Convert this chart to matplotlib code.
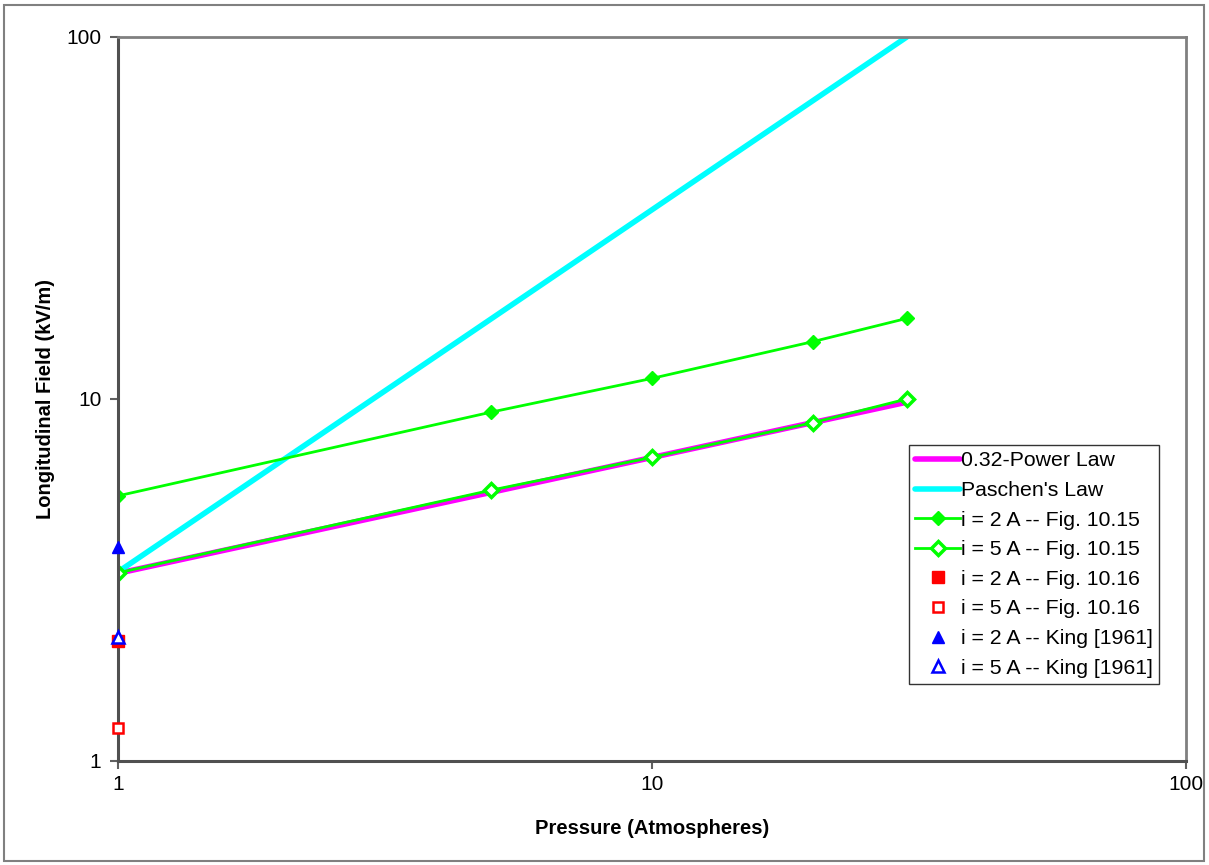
import numpy as np
import matplotlib.pyplot as plt
from matplotlib.patches import Rectangle
from matplotlib.ticker import FixedLocator, NullLocator, FixedFormatter

plt.rcParams['font.family'] = ['Liberation Sans', 'DejaVu Sans']

# pressure (atm) and longitudinal field (kV/m)
p_law = [1, 30]
e_power = [3.3, 3.3 * 30 ** 0.32]
e_paschen = [3.33, 100]

p_fig1015 = [1, 5, 10, 20, 30]
e_2a_1015 = [5.4, 9.2, 11.4, 14.4, 16.7]
e_5a_1015 = [3.31, 5.6, 6.9, 8.6, 10.0]

p_single = [1]
e_2a_1016 = [2.15]
e_5a_1016 = [1.23]
e_2a_king = [3.9]
e_5a_king = [2.2]

p_curve = np.logspace(0, np.log10(30), 50)

fig = plt.figure(figsize=(12.09, 8.65), dpi=100)
ax = fig.add_axes([118/1209, 1 - 761/865, (1186 - 118)/1209, (761 - 37)/865])

# outer chart frame
fig.patches.append(Rectangle((4/1209, 4/865), 1 - 9/1209, 1 - 9/865,
                             transform=fig.transFigure, fill=False,
                             edgecolor='#808080', lw=1.5))

ax.plot(p_curve, e_power[0] * p_curve ** 0.32, color='#ff00ff', lw=4,
        solid_capstyle='round', label='0.32-Power Law')
ax.plot(p_law, e_paschen, color='#00ffff', lw=4,
        solid_capstyle='round', label="Paschen's Law")
ax.plot(p_fig1015, e_2a_1015, color='#00ff00', lw=2, marker='D', ms=7,
        label='i = 2 A -- Fig. 10.15')
ax.plot(p_fig1015, e_5a_1015, color='#00ff00', lw=2, marker='D', ms=7,
        mfc='white', mec='#00ff00', mew=2.5, label='i = 5 A -- Fig. 10.15')
ax.plot(p_single, e_2a_1016, ls='none', marker='s', ms=8, color='#ff0000',
        label='i = 2 A -- Fig. 10.16', clip_on=False, zorder=5)
ax.plot(p_single, e_5a_1016, ls='none', marker='s', ms=7, mfc='white',
        mec='#ff0000', mew=1.8, label='i = 5 A -- Fig. 10.16', clip_on=False, zorder=5)
ax.plot(p_single, e_2a_king, ls='none', marker='^', ms=9, color='#0000ff',
        label='i = 2 A -- King [1961]', clip_on=False, zorder=5)
ax.plot(p_single, e_5a_king, ls='none', marker='^', ms=8, mfc='white',
        mec='#0000ff', mew=1.8, label='i = 5 A -- King [1961]', clip_on=False, zorder=6)

ax.set_xscale('log')
ax.set_yscale('log')
ax.set_xlim(1, 100)
ax.set_ylim(1, 100)
ax.xaxis.set_major_locator(FixedLocator([1, 10, 100]))
ax.xaxis.set_major_formatter(FixedFormatter(['1', '10', '100']))
ax.yaxis.set_major_locator(FixedLocator([1, 10, 100]))
ax.yaxis.set_major_formatter(FixedFormatter(['1', '10', '100']))
ax.xaxis.set_minor_locator(NullLocator())
ax.yaxis.set_minor_locator(NullLocator())
ax.tick_params(axis='both', direction='out', length=6, width=1.5,
               color='#606060', labelsize=15)
ax.tick_params(axis='x', pad=4)
ax.tick_params(axis='y', pad=6)

for side in ['left', 'bottom']:
    ax.spines[side].set_color('#505050')
    ax.spines[side].set_linewidth(2.2)
for side in ['top', 'right']:
    ax.spines[side].set_color('#808080')
    ax.spines[side].set_linewidth(2)

ax.set_xlabel('Pressure (Atmospheres)', fontsize=14.5, fontweight='bold', labelpad=18)
ax.set_ylabel('Longitudinal Field (kV/m)', fontsize=14.5, fontweight='bold', labelpad=8)

leg = ax.legend(loc='upper left', bbox_to_anchor=(909/1209, 1 - 445/865),
                bbox_transform=fig.transFigure, fontsize=15.3, frameon=True,
                fancybox=False, edgecolor='#333333', framealpha=1,
                borderpad=0.3, labelspacing=0.5, handlelength=2.1,
                handletextpad=0.05, borderaxespad=0)
leg.get_frame().set_linewidth(1)

fig.savefig('out.png', dpi=100)
